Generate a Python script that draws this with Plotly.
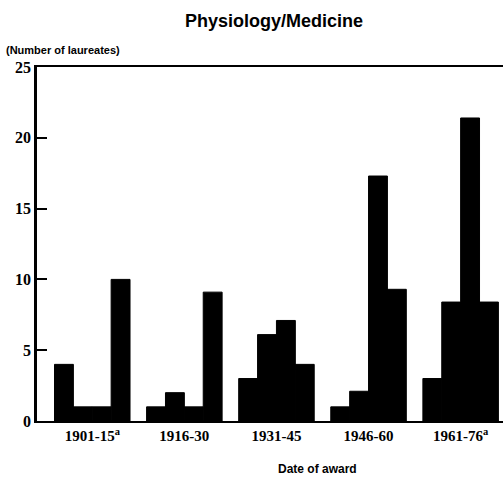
import plotly.graph_objects as go

periods = ["1901-15<sup>a</sup>", "1916-30", "1931-45", "1946-60", "1961-76<sup>a</sup>"]
series_a = [4, 1, 3, 1, 3]
series_b = [1, 2, 6.1, 2.1, 8.4]
series_c = [1, 1, 7.1, 17.3, 21.4]
series_d = [10, 9.1, 4, 9.3, 8.4]
y_ticks = [0, 5, 10, 15, 20, 25]

W, H = 503, 480
L, R, T, B = 37, 0, 67, 59

fig = go.Figure()
x = list(range(len(periods)))
for name, vals in [("A", series_a), ("B", series_b), ("C", series_c), ("D", series_d)]:
    fig.add_trace(go.Bar(x=x, y=vals, name=name,
                         marker=dict(color="black", line=dict(width=1, color="black"))))

serif = "Liberation Serif, DejaVu Serif, serif"
sans = "Liberation Sans, Arial, sans-serif"

fig.update_layout(
    width=W, height=H,
    margin=dict(l=L, r=R, t=T, b=B),
    paper_bgcolor="white", plot_bgcolor="white",
    barmode="group", bargap=0.18, bargroupgap=0,
    showlegend=False,
    xaxis=dict(
        range=[-0.6, 4.46], tickvals=x, ticktext=periods,
        showline=True, linecolor="black", linewidth=2, mirror=True,
        ticks="", showgrid=False, zeroline=False,
        tickfont=dict(family=serif, size=15, color="black", weight="bold"),
        fixedrange=True,
    ),
    yaxis=dict(
        range=[0, 25], tickvals=y_ticks,
        showline=True, linecolor="black", linewidth=2.5,
        ticks="inside", ticklen=10, tickwidth=2, tickcolor="black",
        showgrid=False, zeroline=False,
        tickfont=dict(family=serif, size=16, color="black", weight="bold"),
        fixedrange=True,
    ),
    annotations=[
        dict(text="<b>Physiology/Medicine</b>", x=274, y=H - 21, xref="paper", yref="paper",
             yanchor="middle", showarrow=False, font=dict(family=sans, size=18, color="black")),
        dict(text="<b>(Number of laureates)</b>", x=4, y=H - 50, xref="paper", yref="paper",
             xanchor="left", yanchor="middle", showarrow=False,
             font=dict(family=sans, size=11, color="black")),
        dict(text="<b>Date of award</b>", x=317, y=H - 469, xref="paper", yref="paper",
             yanchor="middle", showarrow=False, font=dict(family=sans, size=12, color="black")),
    ],
)
# convert pixel annotation positions to paper coords
pw, ph = W - L - R, H - T - B
for a in fig.layout.annotations:
    a.x = (a.x - L) / pw
    a.y = (a.y - B) / ph

fig.write_html("out.html", config={"displayModeBar": False},
               post_script="document.body.style.margin='0';")
